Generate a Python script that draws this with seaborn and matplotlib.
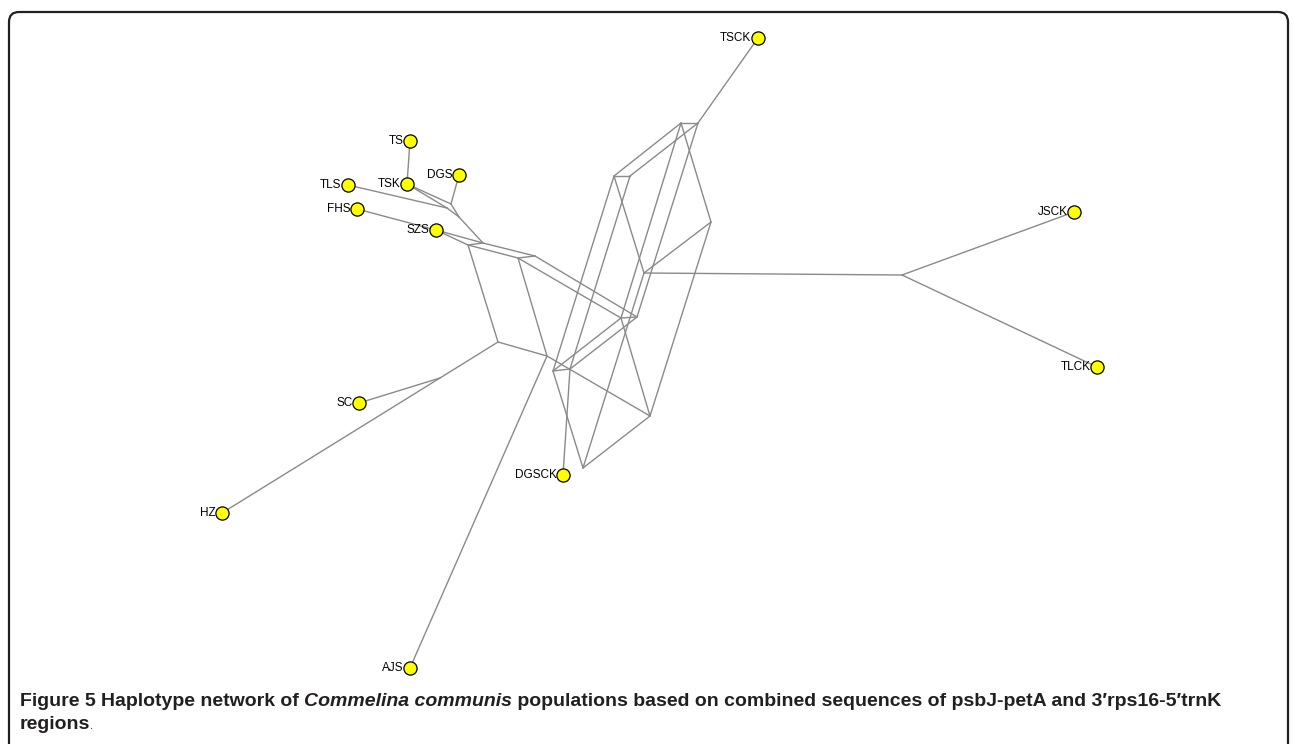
import numpy as np
import pandas as pd
import matplotlib
matplotlib.use("Agg")
import matplotlib.pyplot as plt
import seaborn as sns
from matplotlib.patches import FancyBboxPatch

# ── Data: haplotype nodes (picture pixel positions) ─────────
node_names = ["TSCK", "TS", "TSK", "DGS", "TLS", "FHS", "SZS",
              "JSCK", "TLCK", "SC", "HZ", "DGSCK", "AJS"]
node_x = [758, 410, 407, 459, 348, 357, 436, 1074, 1097, 359, 222, 563, 410]
node_y = [38, 141, 184, 175, 185, 209, 230, 212, 367, 403, 513, 475, 668]

# median vectors (unlabelled junctions)
mv_names = ["t1", "t2", "t3", "na", "nb", "nc", "nd", "ne", "nf", "j1",
            "b1", "b2", "b3", "b4", "b5", "b6", "b7", "b8", "b9", "b10",
            "b11", "b12", "hj"]
mv_x = [451, 447, 459, 468, 483, 518, 535, 498, 547, 440,
        553, 570, 621, 637, 614, 630, 681, 698, 644, 711,
        583, 650, 902]
mv_y = [204, 208, 217, 245, 243, 258, 256, 342, 356, 378,
        371, 369, 318, 317, 176, 176, 123, 123, 273, 222,
        468, 416, 275]

edges = [("TS", "TSK"), ("TSK", "t1"), ("TSK", "t2"), ("DGS", "t1"),
         ("TLS", "t2"), ("t1", "t3"), ("t2", "t3"), ("t3", "nb"),
         ("FHS", "SZS"), ("SZS", "na"), ("SZS", "nb"), ("na", "nb"),
         ("na", "nc"), ("nb", "nd"), ("nc", "nd"), ("na", "ne"),
         ("nc", "nf"), ("ne", "nf"), ("ne", "j1"), ("j1", "SC"),
         ("j1", "HZ"), ("nf", "AJS"), ("nc", "b3"), ("nd", "b4"),
         ("nf", "b12"), ("b1", "b2"), ("b3", "b4"), ("b5", "b6"),
         ("b7", "b8"), ("b1", "b3"), ("b2", "b4"), ("b5", "b7"),
         ("b6", "b8"), ("b9", "b10"), ("b11", "b12"), ("b1", "b5"),
         ("b2", "b6"), ("b3", "b7"), ("b4", "b8"), ("b11", "b9"),
         ("b12", "b10"), ("b5", "b9"), ("b7", "b10"), ("b1", "b11"),
         ("b3", "b12"), ("b2", "DGSCK"), ("b8", "TSCK"), ("b9", "hj"),
         ("hj", "JSCK"), ("hj", "TLCK")]

caption_line1 = [("Figure 5 ", "normal"), ("Haplotype network of ", "normal"),
                 ("Commelina communis", "italic"),
                 (" populations based on combined sequences of psbJ-petA and 3\u2032rps16-5\u2032trnK", "normal")]
caption_line2 = [("regions", "normal")]

# ── Build tables ─────────────────────────────────────────────
pos = {n: (x, y) for n, x, y in zip(node_names, node_x, node_y)}
pos.update({n: (x, y) for n, x, y in zip(mv_names, mv_x, mv_y)})

rows = []
for i, (a, b) in enumerate(edges):
    for n in (a, b):
        rows.append({"edge": i, "x": pos[n][0], "y": pos[n][1]})
edge_df = pd.DataFrame(rows)
node_df = pd.DataFrame({"name": node_names, "x": node_x, "y": node_y})

# ── Plot ─────────────────────────────────────────────────────
sns.set_theme(style="white")
plt.rcParams["font.family"] = ["Liberation Sans", "DejaVu Sans"]

W, H = 1293, 744
fig = plt.figure(figsize=(W / 100, H / 100), dpi=100)
ax = fig.add_axes([0, 0, 1, 1])

sns.lineplot(data=edge_df, x="x", y="y", units="edge", estimator=None,
             sort=False, color="#8a8a8a", lw=1.0, ax=ax, zorder=1)
sns.scatterplot(data=node_df, x="x", y="y", s=90, color="#ffff00",
                edgecolor="black", linewidth=0.9, ax=ax, zorder=3, legend=False)

for _, r in node_df.iterrows():
    ax.text(r["x"] - 6.5, r["y"], r["name"], ha="right", va="center",
            fontsize=8.5, color="black", zorder=4)

ax.set_xlim(0, W)
ax.set_ylim(H, 0)
ax.set_axis_off()

# frame
frame = FancyBboxPatch((9, 12), 1279, 800,
                       boxstyle="round,pad=0,rounding_size=10",
                       fill=False, ec="#231f20", lw=1.6, zorder=5)
ax.add_patch(frame)

# caption, piece by piece
renderer = fig.canvas.get_renderer()


def put_line(pieces, x0, y0, size=14):
    x = x0
    for txt, style in pieces:
        t = ax.text(x, y0, txt, fontsize=size, fontweight="bold",
                    fontstyle=style, ha="left", va="baseline", color="#231f20")
        x += t.get_window_extent(renderer).width
    return x


put_line(caption_line1, 20, 706)
xe = put_line(caption_line2, 20, 729)
ax.text(xe, 729, ".", fontsize=8, ha="left", va="baseline", color="#231f20")

fig.savefig("out.png", dpi=100)
